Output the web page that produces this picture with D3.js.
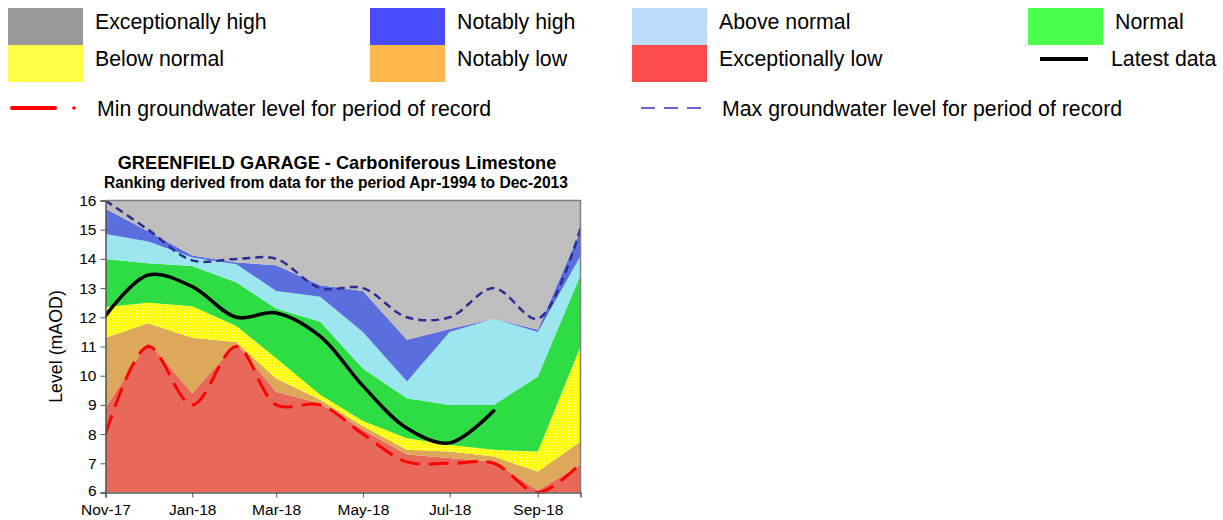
<!DOCTYPE html>
<meta charset="utf-8">
<head>
    <script src="https://d3js.org/d3.v7.min.js"></script>
</head>
<body style="margin:0; background:#fff;">
    <div id="svg_div"></div>
</body>
<script>

    // months of the chart (first of each month)
    var months = ["2017-11", "2017-12", "2018-01", "2018-02", "2018-03", "2018-04",
        "2018-05", "2018-06", "2018-07", "2018-08", "2018-09", "2018-10"];

    // upper edge of each ranking band (mAOD)
    var exc_low = [8.9, 11.15, 9.4, 11.1, 9.45, 9.05, 8.15, 7.3, 7.18, 7.06, 6.07, 6.95];
    var not_low = [11.3, 11.8, 11.3, 11.15, 9.9, 9.18, 8.28, 7.46, 7.4, 7.23, 6.72, 7.75];
    var below_normal = [12.35, 12.5, 12.38, 11.7, 10.6, 9.35, 8.45, 7.86, 7.63, 7.46, 7.4, 11.0];
    var normal = [14.0, 13.85, 13.76, 13.2, 12.3, 11.85, 10.25, 9.23, 9.0, 9.0, 9.97, 13.45];
    var above_normal = [14.85, 14.6, 14.05, 13.82, 12.9, 12.7, 11.5, 9.8, 11.5, 11.95, 11.5, 14.1];
    var not_high = [15.72, 14.95, 14.12, 13.88, 13.78, 13.1, 12.9, 11.23, 11.6, 11.95, 11.57, 14.97];

    var min_level = [8.0, 11.0, 9.0, 11.0, 9.0, 9.0, 8.0, 7.05, 7.0, 7.0, 6.0, 7.0];
    var max_level = [16.0, 15.0, 13.95, 14.0, 14.0, 13.0, 13.0, 12.0, 12.0, 13.0, 11.95, 15.05];
    var latest = [12.05, 13.45, 13.05, 12.0, 12.15, 11.35, 9.65, 8.2, 7.7, 8.8];

    var y_ticks = [6, 7, 8, 9, 10, 11, 12, 13, 14, 15, 16];

    var legend_items = [
        { label: "Exceptionally high", color: "#999999", x: 8, y: 8 },
        { label: "Below normal", color: "#FFFF4A", x: 8, y: 45 },
        { label: "Notably high", color: "#4A4AFF", x: 370, y: 8 },
        { label: "Notably low", color: "#FFB84C", x: 370, y: 45 },
        { label: "Above normal", color: "#BDDCFC", x: 632, y: 8 },
        { label: "Exceptionally low", color: "#FF4C4C", x: 632, y: 45 },
        { label: "Normal", color: "#4CFF4C", x: 1028, y: 8 },
    ];

    function draw_chart() {
        let width = 1223, height = 520;
        let svg = d3.select("#svg_div").append("svg")
            .attr("width", width)
            .attr("height", height)
            .style("font-family", "'Liberation Sans', Arial, sans-serif");

        let defs = svg.append("defs");

        // dotted yellow fill like the Excel pattern
        let pat = defs.append("pattern")
            .attr("id", "dots")
            .attr("width", 3).attr("height", 3)
            .attr("patternUnits", "userSpaceOnUse");
        pat.append("rect").attr("width", 3).attr("height", 3).attr("fill", "#FFFF00");
        pat.append("rect").attr("x", 1).attr("y", 1).attr("width", 1).attr("height", 1)
            .attr("fill", "#FFFFC0");

        // legend
        let legend = svg.append("g");
        legend_items.forEach(function (d) {
            legend.append("rect")
                .attr("x", d.x).attr("y", d.y)
                .attr("width", 75).attr("height", 37)
                .attr("fill", d.color);
            legend.append("text")
                .attr("x", d.x + 87).attr("y", d.y + 15)
                .attr("dominant-baseline", "middle")
                .attr("font-size", 21.3)
                .text(d.label);
        });
        legend.append("line")
            .attr("x1", 1040).attr("x2", 1088).attr("y1", 59).attr("y2", 59)
            .attr("stroke", "black").attr("stroke-width", 4);
        legend.append("text")
            .attr("x", 1111).attr("y", 60).attr("dominant-baseline", "middle")
            .attr("font-size", 21.3).text("Latest data");

        legend.append("line")
            .attr("x1", 12).attr("x2", 55).attr("y1", 108).attr("y2", 108)
            .attr("stroke", "#FF0000").attr("stroke-width", 4).attr("stroke-linecap", "round");
        legend.append("circle")
            .attr("cx", 74).attr("cy", 108).attr("r", 1.8).attr("fill", "#FF0000");
        legend.append("text")
            .attr("x", 97).attr("y", 110).attr("dominant-baseline", "middle")
            .attr("font-size", 21.3).text("Min groundwater level for period of record");

        legend.append("line")
            .attr("x1", 641).attr("x2", 702).attr("y1", 108).attr("y2", 108)
            .attr("stroke", "#6666CC").attr("stroke-width", 2)
            .attr("stroke-dasharray", "14,9");
        legend.append("text")
            .attr("x", 722).attr("y", 110).attr("dominant-baseline", "middle")
            .attr("font-size", 21.3).text("Max groundwater level for period of record");

        // plot
        let plot = { left: 105.5, right: 580.5, top: 200.5, bottom: 492.5 };
        let parse = d3.timeParse("%Y-%m");
        let dates = months.map(parse);

        let x = d3.scaleTime()
            .domain([dates[0], dates[dates.length - 1]])
            .range([plot.left, plot.right]);
        let y = d3.scaleLinear()
            .domain([6, 16])
            .range([plot.bottom, plot.top]);

        defs.append("clipPath").attr("id", "clip")
            .append("rect")
            .attr("x", plot.left).attr("y", plot.top)
            .attr("width", plot.right - plot.left).attr("height", plot.bottom - plot.top);

        let bands = [
            { lo: null, hi: exc_low, fill: "#E8685A" },
            { lo: exc_low, hi: not_low, fill: "#DDA85A" },
            { lo: not_low, hi: below_normal, fill: "url(#dots)" },
            { lo: below_normal, hi: normal, fill: "#2EDD44" },
            { lo: normal, hi: above_normal, fill: "#9CE6F0" },
            { lo: above_normal, hi: not_high, fill: "#5A6EDD" },
            { lo: not_high, hi: null, fill: "#BEBEBE" },
        ];

        let g = svg.append("g").attr("clip-path", "url(#clip)");

        bands.forEach(function (b) {
            let area = d3.area()
                .x(function (d, i) { return x(dates[i]); })
                .y0(function (d, i) { return b.lo ? y(b.lo[i]) : y(6); })
                .y1(function (d, i) { return b.hi ? y(b.hi[i]) : y(16); });
            g.append("path")
                .datum(months)
                .attr("d", area)
                .attr("fill", b.fill);
        });

        let smooth = d3.line()
            .x(function (d, i) { return x(dates[i]); })
            .y(function (d) { return y(d); })
            .curve(d3.curveCatmullRom.alpha(0.5));

        g.append("path").datum(min_level)
            .attr("d", smooth)
            .attr("fill", "none")
            .attr("stroke", "#FF0000")
            .attr("stroke-width", 3)
            .attr("stroke-dasharray", "20,9");

        g.append("path").datum(max_level)
            .attr("d", smooth)
            .attr("fill", "none")
            .attr("stroke", "#2E2E90")
            .attr("stroke-width", 2.5)
            .attr("stroke-dasharray", "8,5");

        g.append("path").datum(latest)
            .attr("d", smooth)
            .attr("fill", "none")
            .attr("stroke", "black")
            .attr("stroke-width", 3.5)
            .attr("stroke-linecap", "round");

        // plot frame (top and right)
        svg.append("path")
            .attr("d", "M" + plot.left + "," + plot.top + "H" + plot.right + "V" + plot.bottom)
            .attr("fill", "none").attr("stroke", "#808080").attr("stroke-width", 1.5);

        // axes
        let y_axis = svg.append("g")
            .attr("transform", "translate(" + plot.left + ",0)")
            .call(d3.axisLeft(y).tickValues(y_ticks).tickSize(5).tickPadding(4));
        let x_axis = svg.append("g")
            .attr("transform", "translate(0," + plot.bottom + ")")
            .call(d3.axisBottom(x)
                .ticks(d3.timeMonth.every(2))
                .tickFormat(d3.timeFormat("%b-%y"))
                .tickSize(5).tickPadding(6));

        [y_axis, x_axis].forEach(function (ax) {
            ax.select(".domain").attr("stroke", "#555").attr("stroke-width", 1.5);
            ax.selectAll(".tick line").attr("stroke", "#555");
            ax.selectAll("text")
                .attr("font-size", 15.5)
                .attr("font-family", "'Liberation Sans', Arial, sans-serif")
                .attr("fill", "black");
        });
        // keep the lowest y label clear of the first date label
        y_axis.selectAll(".tick text").filter(function (d) { return d === 6; })
            .attr("dy", "0.2em");

        svg.append("text")
            .attr("transform", "translate(62," + ((plot.top + plot.bottom) / 2) + ") rotate(-90)")
            .attr("text-anchor", "middle")
            .attr("font-size", 17.8)
            .text("Level (mAOD)");

        // titles
        svg.append("text")
            .attr("x", 337).attr("y", 169)
            .attr("text-anchor", "middle")
            .attr("font-size", 18.2).attr("font-weight", "bold")
            .text("GREENFIELD GARAGE - Carboniferous Limestone");
        svg.append("text")
            .attr("x", 336).attr("y", 188)
            .attr("text-anchor", "middle")
            .attr("font-size", 15.6).attr("font-weight", "bold")
            .text("Ranking derived from data for the period Apr-1994 to Dec-2013");
    }

    draw_chart();

</script>
